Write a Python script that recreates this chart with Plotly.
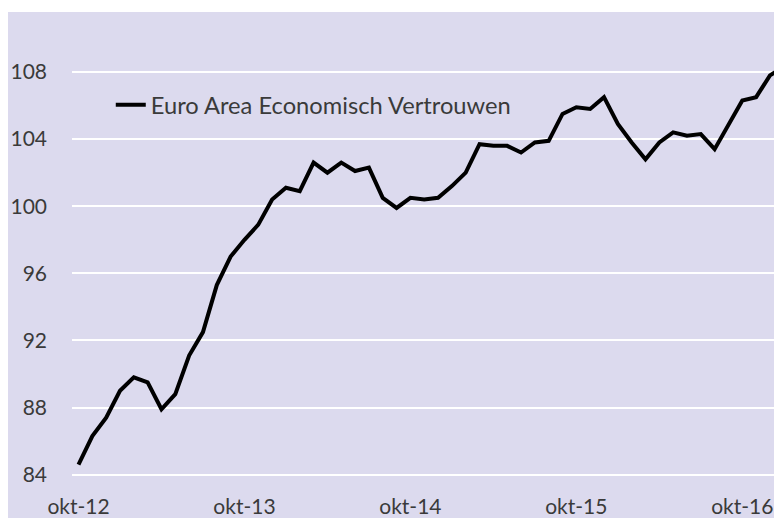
import plotly.graph_objects as go

months = [
    "okt-12", "nov-12", "dec-12",
    "jan-13", "feb-13", "mrt-13", "apr-13", "mei-13", "jun-13", "jul-13", "aug-13", "sep-13", "okt-13", "nov-13", "dec-13",
    "jan-14", "feb-14", "mrt-14", "apr-14", "mei-14", "jun-14", "jul-14", "aug-14", "sep-14", "okt-14", "nov-14", "dec-14",
    "jan-15", "feb-15", "mrt-15", "apr-15", "mei-15", "jun-15", "jul-15", "aug-15", "sep-15", "okt-15", "nov-15", "dec-15",
    "jan-16", "feb-16", "mrt-16", "apr-16", "mei-16", "jun-16", "jul-16", "aug-16", "sep-16", "okt-16", "nov-16", "dec-16",
    "jan-17",
]

vertrouwen = [
    84.6, 86.3, 87.4,
    89.0, 89.8, 89.5, 87.9, 88.8, 91.1, 92.5, 95.3, 97.0, 98.0, 98.9, 100.4,
    101.1, 100.9, 102.6, 102.0, 102.6, 102.1, 102.3, 100.5, 99.9, 100.5, 100.4, 100.5,
    101.2, 102.0, 103.7, 103.6, 103.6, 103.2, 103.8, 103.9, 105.5, 105.9, 105.8, 106.5,
    104.9, 103.8, 102.8, 103.8, 104.4, 104.2, 104.3, 103.4, 104.8, 106.3, 106.5, 107.8,
    108.3,
]

x_ticks = ["okt-12", "okt-13", "okt-14", "okt-15", "okt-16"]
y_ticks = [84, 88, 92, 96, 100, 104, 108]

series_name = "Euro Area Economisch Vertrouwen"

BG = "#DCDAEE"
TXT = "#3a3a3a"
FONT = "Lato, 'Open Sans', sans-serif"

fig = go.Figure()
fig.add_trace(go.Scatter(
    x=months, y=vertrouwen, mode="lines", name=series_name,
    line=dict(color="black", width=4),
))

fig.update_layout(
    width=782, height=518,
    margin=dict(l=64, r=0, t=4, b=36),
    paper_bgcolor=BG, plot_bgcolor=BG,
    font=dict(family=FONT, color=TXT, size=21),
    showlegend=True,
    legend=dict(
        x=0.054, y=0.806, xanchor="left", yanchor="middle",
        bgcolor="rgba(0,0,0,0)", borderwidth=0,
        font=dict(family=FONT, size=23.7, color=TXT),
        itemwidth=30,
    ),
    xaxis=dict(
        type="category", range=[-0.47, 51.45],
        tickmode="array", tickvals=x_ticks, ticktext=x_ticks,
        showgrid=False, zeroline=False, showline=False, ticks="",
        tickfont=dict(size=21, color=TXT, family=FONT),
        ticklabelstandoff=2,
    ),
    yaxis=dict(
        range=[83.088, 111.576],
        tickmode="array", tickvals=y_ticks,
        showgrid=True, gridcolor="white", gridwidth=2,
        zeroline=False, showline=False, ticks="",
        tickfont=dict(size=21, color=TXT, family=FONT),
        ticklabelstandoff=24,
    ),
    shapes=[
        dict(type="rect", xref="paper", yref="paper", x0=-0.2, x1=1.1, y0=1.0, y1=1.1,
             fillcolor="white", line=dict(width=0), layer="above"),
    ],
)

fig.write_html("out.html")
